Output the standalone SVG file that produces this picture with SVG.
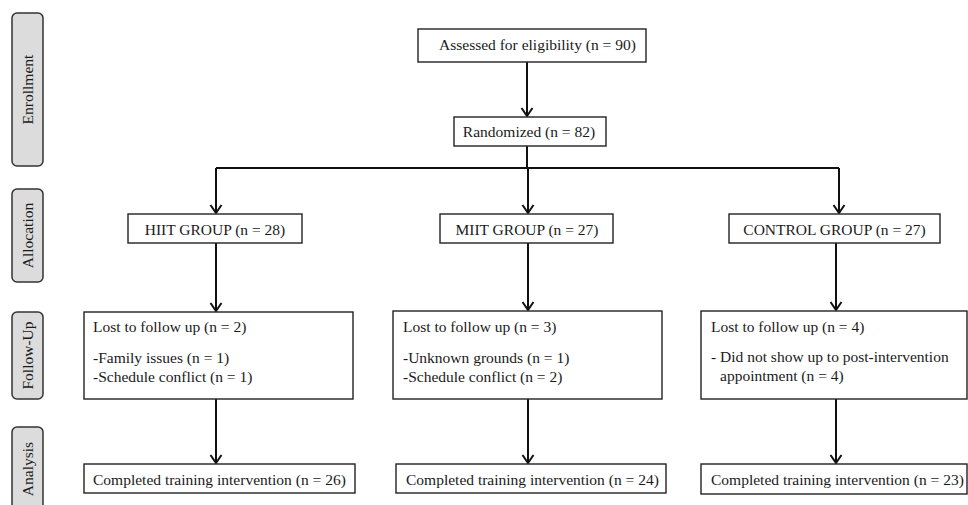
<svg xmlns="http://www.w3.org/2000/svg" width="968" height="505" viewBox="0 0 968 505">
<defs>
<style>
text{font-family:"Liberation Serif","DejaVu Serif",serif;font-size:15.5px;fill:#1a1a1a}
.box{fill:#fff;stroke:#222;stroke-width:1.4}
.side{fill:#dcdcdc;stroke:#333;stroke-width:1.5}
.c{stroke:#111;stroke-width:2;fill:none}
.mid{text-anchor:middle}
</style>
<marker id="ah" markerWidth="12" markerHeight="14" refX="10" refY="7" orient="auto" markerUnits="userSpaceOnUse" viewBox="0 0 12 14">
<path d="M2,1.5 L10,7 L2,12.5" fill="none" stroke="#111" stroke-width="2"/>
</marker>
</defs>
<rect width="968" height="505" fill="#fff"/>
<g font-family="'Liberation Serif', 'DejaVu Serif', serif">
<g id="side-enrollment"><rect class="side" x="12" y="13" width="31" height="153" rx="5"/><text class="mid" transform="translate(33,89.5) rotate(-90)">Enrollment</text></g>
<g id="side-allocation"><rect class="side" x="12" y="189" width="31" height="93" rx="5"/><text class="mid" transform="translate(33,235.5) rotate(-90)">Allocation</text></g>
<g id="side-followup"><rect class="side" x="12" y="312" width="31" height="87" rx="5"/><text class="mid" transform="translate(33,355.5) rotate(-90)">Follow-Up</text></g>
<g id="side-analysis"><rect class="side" x="12" y="427" width="31" height="90" rx="5"/><text class="mid" transform="translate(33,469) rotate(-90)">Analysis</text></g>

<g id="connectors">
<path class="c" d="M527,62 V116" marker-end="url(#ah)"/>
<path class="c" d="M527,146 V168 M216,168 H839"/>
<path class="c" d="M216,168 V213" marker-end="url(#ah)"/>
<path class="c" d="M528,168 V213" marker-end="url(#ah)"/>
<path class="c" d="M839,168 V213" marker-end="url(#ah)"/>
<path class="c" d="M216,243 V311" marker-end="url(#ah)"/>
<path class="c" d="M528,243 V310" marker-end="url(#ah)"/>
<path class="c" d="M836,243 V310" marker-end="url(#ah)"/>
<path class="c" d="M216,399 V463" marker-end="url(#ah)"/>
<path class="c" d="M528,399 V463" marker-end="url(#ah)"/>
<path class="c" d="M836,399 V463" marker-end="url(#ah)"/>
</g>

<g id="assessed"><rect class="box" x="418" y="29" width="228" height="33"/><text x="439" y="50">Assessed for eligibility (n = 90)</text></g>
<g id="randomized"><rect class="box" x="454" y="117" width="152" height="29"/><text class="mid" x="529" y="137">Randomized (n = 82)</text></g>

<g id="hiit"><rect class="box" x="128" y="214" width="174" height="29"/><text class="mid" x="215" y="235">HIIT GROUP (n = 28)</text></g>
<g id="miit"><rect class="box" x="440" y="214" width="173" height="29"/><text class="mid" x="527" y="235">MIIT GROUP (n = 27)</text></g>
<g id="control"><rect class="box" x="729" y="214" width="211" height="29"/><text class="mid" x="834.5" y="235">CONTROL GROUP (n = 27)</text></g>

<g id="hiit-lost"><rect class="box" x="84" y="312" width="269" height="87"/>
<text x="93" y="332">Lost to follow up (n = 2)</text>
<text x="93" y="363">-Family issues (n = 1)</text>
<text x="93" y="382">-Schedule conflict (n = 1)</text></g>
<g id="miit-lost"><rect class="box" x="393" y="311" width="269" height="88"/>
<text x="403" y="332">Lost to follow up (n = 3)</text>
<text x="403" y="363">-Unknown grounds (n = 1)</text>
<text x="403" y="382">-Schedule conflict (n = 2)</text></g>
<g id="control-lost"><rect class="box" x="701" y="311" width="266" height="88"/>
<text x="711" y="332">Lost to follow up (n = 4)</text>
<text x="711" y="362">- Did not show up to post-intervention</text>
<text x="720" y="381">appointment (n = 4)</text></g>

<g id="hiit-done"><rect class="box" x="84" y="464" width="271" height="29"/><text x="93" y="485">Completed training intervention (n = 26)</text></g>
<g id="miit-done"><rect class="box" x="396" y="464" width="270" height="29"/><text x="406" y="485">Completed training intervention (n = 24)</text></g>
<g id="control-done"><rect class="box" x="701" y="464" width="266" height="30"/><text x="711" y="485">Completed training intervention (n = 23)</text></g>
</g>
</svg>
